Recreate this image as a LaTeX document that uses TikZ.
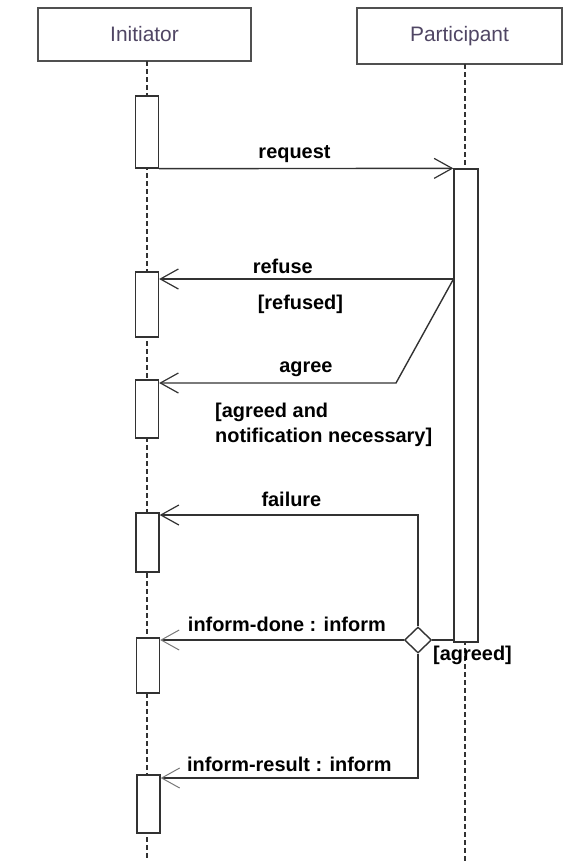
\documentclass[tikz,border=0pt]{standalone}
\usepackage{fontspec}
\setmainfont{Liberation Sans}
\usepackage{xcolor}
\usepackage{tikz}
\usetikzlibrary{arrows.meta, shapes.geometric}
\definecolor{linegray}{RGB}{50,50,50}
\definecolor{boxgray}{RGB}{80,80,80}
\definecolor{headtext}{RGB}{80,70,100}
\definecolor{tipgray}{RGB}{120,120,120}

\begin{document}
\begin{tikzpicture}[x=1bp, y=-1bp,
    headbox/.style={draw=boxgray, fill=white, line width=1.5bp, inner sep=0pt, font=\fontsize{21}{23}\selectfont, text=headtext},
    lifeline/.style={draw=linegray, line width=1.3bp, dash pattern=on 5bp off 3bp},
    actbox/.style={draw=linegray, fill=white, line width=1.3bp, minimum width=23bp, inner sep=0pt},
    plain/.style={draw=linegray, line width=1.4bp},
    msg/.style={plain, -{Straight Barb[length=18bp, width=20bp, line width=1.2bp]}},
    reply/.style={plain, -{Straight Barb[length=18bp, width=20bp, line width=1bp, color=tipgray]}},
    lbl/.style={font=\bfseries\fontsize{20}{25}\selectfont, inner sep=0pt}]
    \useasboundingbox (0,0) rectangle (563,861);

    % Coordinates
    \coordinate (inittop) at (147,61);
    \coordinate (initbot) at (147,861);
    \coordinate (parttop) at (465,64);
    \coordinate (partbot) at (465,861);
    \coordinate (R) at (453.5,279);
    \coordinate (A) at (396,383);
    \coordinate (F) at (418,515);
    \coordinate (I) at (418,778);
    \coordinate (G) at (215,442);
    \coordinate (H) at (433,660);

    % Heads
    \node[headbox, minimum width=213bp, minimum height=53bp] (init) at (144.5,34.5) {Initiator};
    \node[headbox, minimum width=205bp, minimum height=56bp] (part) at (459.5,36) {Participant};

    % Lifelines
    \draw[lifeline] (inittop) -- (initbot);
    \draw[lifeline] (parttop) -- (partbot);

    % Activations
    \node[actbox, minimum height=72bp] (act1) at (147,132) {};
    \node[actbox, minimum height=65bp] (act2) at (147,304.5) {};
    \node[actbox, minimum height=58bp] (act3) at (147,409) {};
    \node[actbox, minimum height=59bp] (act4) at (147.5,542.5) {};
    \node[actbox, minimum height=55bp] (act5) at (148,665.5) {};
    \node[actbox, minimum height=58bp] (act6) at (148.5,804) {};
    \node[actbox, minimum width=24bp, minimum height=473bp] (bar) at (466,405.5) {};

    % Decision
    \node[diamond, draw=linegray, fill=white, line width=1.4bp, inner sep=0pt, minimum width=27bp, minimum height=26bp] (dmd) at (418,640) {};

    % Messages
    \draw[msg] (act1.south east) -- (bar.north west) node[lbl, pos=.46, above=5bp] {request};
    \draw[msg] (R) -- (R -| act2.east) node[lbl, pos=.58, above=5bp] {refuse} node[lbl, pos=.52, below=15bp] {[refused]};
    \draw[msg] (R) -- (A) -- (A -| act3.east) node[lbl, pos=.38, above=6bp] {agree};
    \draw[msg] (dmd.north) -- (F) -- (F -| act4.east) node[lbl, pos=.49, above=8bp] {failure};
    \draw[plain] (dmd.east) -- (dmd.east -| bar.west);
    \draw[reply] (dmd.west) -- (dmd.west -| act5.east) node[lbl, pos=.48, above=8bp] {inform-done : inform};
    \draw[reply] (dmd.south) -- (I) -- (I -| act6.east) node[lbl, pos=.5, above=6bp] {inform-result : inform};

    % Guards
    \node[lbl, anchor=base west, align=left] (g1) at (G) {[agreed and\\notification necessary]};
    \node[lbl, anchor=base west] (g2) at (H) {[agreed]};
\end{tikzpicture}
\end{document}
